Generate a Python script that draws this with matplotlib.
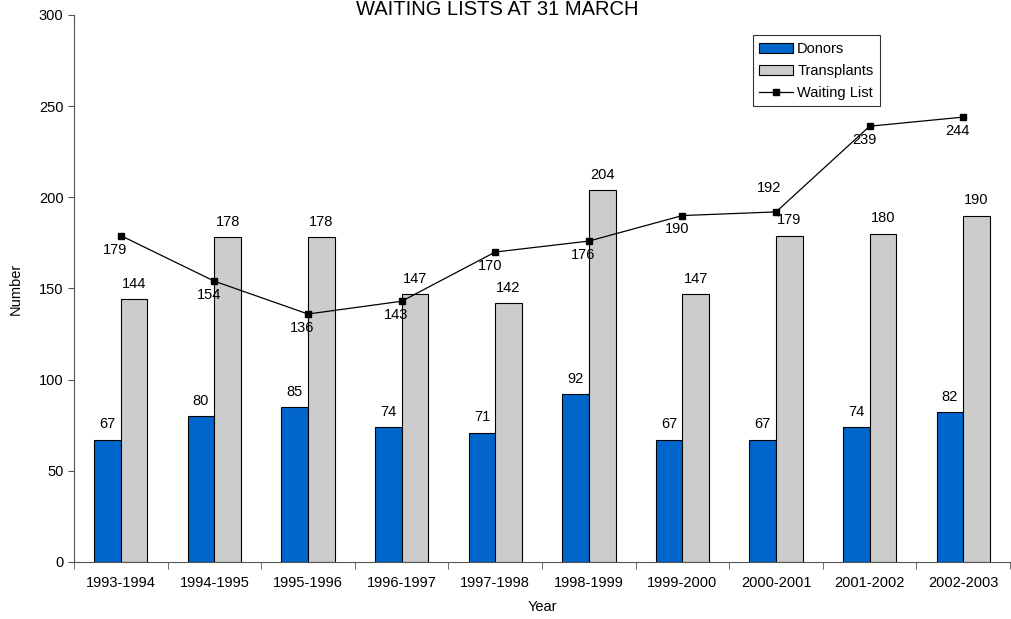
import numpy as np
import matplotlib.pyplot as plt

plt.rcParams['font.family'] = ['Liberation Sans', 'DejaVu Sans']

years = ['1993-1994', '1994-1995', '1995-1996', '1996-1997', '1997-1998',
         '1998-1999', '1999-2000', '2000-2001', '2001-2002', '2002-2003']
donors = [67, 80, 85, 74, 71, 92, 67, 67, 74, 82]
transplants = [144, 178, 178, 147, 142, 204, 147, 179, 180, 190]
waiting = [179, 154, 136, 143, 170, 176, 190, 192, 239, 244]
# where each waiting-list label sits relative to its point
wait_above = [False, False, False, False, False, False, False, True, False, False]

fs = 10.5

fig = plt.figure(figsize=(10.12, 6.19), dpi=100)
ax = fig.add_axes([0.0731, 0.0921, 0.925, 0.8837])

x = np.arange(len(years))
w = 0.285
b1 = ax.bar(x - w / 2, donors, w, color='#0066cc', edgecolor='black', linewidth=0.8, label='Donors')
b2 = ax.bar(x + w / 2, transplants, w, color='#cccccc', edgecolor='black', linewidth=0.8, label='Transplants')
ln, = ax.plot(x, waiting, color='black', linewidth=0.9, marker='s', markersize=4.5, label='Waiting List')

for xi, v in zip(x, donors):
    ax.annotate(str(v), (xi - w / 2, v), xytext=(0, 6), textcoords='offset points',
                ha='center', va='bottom', fontsize=fs)
for xi, v in zip(x, transplants):
    ax.annotate(str(v), (xi + w / 2, v), xytext=(0, 6), textcoords='offset points',
                ha='center', va='bottom', fontsize=fs)
for xi, v, up in zip(x, waiting, wait_above):
    if up:
        ax.annotate(str(v), (xi, v), xytext=(-5, 12), textcoords='offset points',
                    ha='center', va='bottom', fontsize=fs)
    else:
        ax.annotate(str(v), (xi, v), xytext=(-4, -5), textcoords='offset points',
                    ha='center', va='top', fontsize=fs)

ax.set_xlim(-0.5, len(years) - 0.5)
ax.set_ylim(0, 300)
ax.set_yticks(range(0, 301, 50))
ax.set_xticks(x)
ax.set_xticklabels(years, fontsize=fs)
ax.set_xticks(np.arange(-0.5, len(years), 1), minor=True)
ax.tick_params(axis='x', which='major', length=0, pad=10)
ax.tick_params(axis='x', which='minor', length=5, color='#555555')
ax.tick_params(axis='y', length=4, labelsize=fs, color='#555555')
for s in ['top', 'right']:
    ax.spines[s].set_visible(False)
for s in ['left', 'bottom']:
    ax.spines[s].set_color('#555555')

ax.set_xlabel('Year', fontsize=fs, labelpad=7)
ax.set_ylabel('Number', fontsize=fs, labelpad=12)
fig.text(0.491, 0.984, 'WAITING LISTS AT 31 MARCH', ha='center', va='center', fontsize=14.5)

leg = ax.legend([b1, b2, ln], ['Donors', 'Transplants', 'Waiting List'],
                loc='upper left', bbox_to_anchor=(0.725, 0.963), fontsize=fs,
                frameon=True, fancybox=False, edgecolor='black',
                handlelength=2.3, handleheight=0.7, borderpad=0.45, labelspacing=0.55,
                handletextpad=0.3, borderaxespad=0)
leg.get_frame().set_linewidth(0.8)

fig.savefig('out.png', dpi=100)
